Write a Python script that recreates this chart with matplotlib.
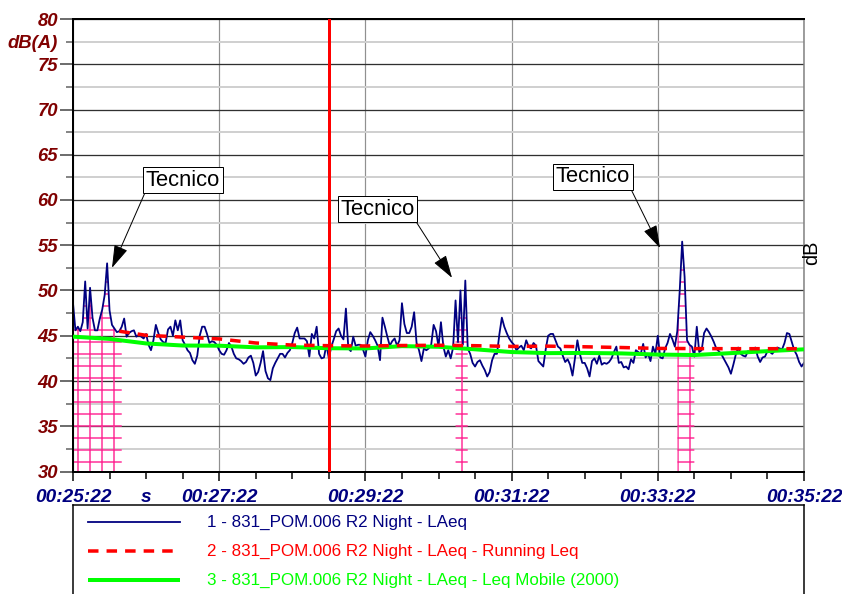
import numpy as np
import matplotlib
matplotlib.use("Agg")
import matplotlib.pyplot as plt

# ---------------- data ----------------
# LAeq (dB(A)) sampled every 2 s from 00:25:22
laeq_a = [48.6, 45.6, 46.0, 45.5, 46.5, 51.0, 45.8, 50.3, 47.0, 45.6, 45.6, 46.9, 47.9, 49.5, 53.0, 47.8,
          46.2, 45.8, 45.4, 45.5, 46.0, 46.9, 44.9, 45.3, 45.5, 45.6, 44.9, 45.1, 44.9, 44.7, 45.2, 44.0,
          43.4, 44.5, 46.2, 45.3, 44.6, 44.3, 44.2, 45.7, 46.0, 45.0, 46.7, 45.6, 46.7, 44.5, 44.0, 43.4,
          43.1, 42.3, 41.9, 42.8, 45.0, 46.0, 46.0, 45.2, 44.2, 44.4, 44.3, 44.0, 43.4, 43.0]
laeq_b = [42.9, 43.4, 44.2, 43.8, 43.0, 42.5, 42.4, 42.2, 41.9, 42.1, 42.6, 42.8, 42.0, 40.6, 41.0, 42.0,
          43.3, 41.1, 40.3, 40.1, 41.4, 42.0, 42.5, 43.0, 43.0, 42.6, 43.1, 43.4, 44.2, 45.3, 45.9, 44.7,
          44.7, 44.7, 44.4, 42.7, 45.2, 44.7, 46.0, 43.0, 42.5, 42.6, 44.0, 42.5, 43.8, 44.6, 45.5, 45.8,
          45.0, 44.6, 48.0, 43.6, 43.3, 44.9, 43.9, 44.0, 44.0, 43.5, 42.7, 44.5, 45.4]
laeq_c = [45.0, 44.5, 43.9, 42.3, 47.0, 46.0, 44.9, 43.9, 44.4, 44.7, 43.9, 44.5, 48.6, 46.3, 45.3, 45.3,
          46.0, 47.6, 44.2, 43.4, 42.2, 43.6, 43.4, 43.6, 44.0, 46.2, 45.5, 43.8, 46.5, 43.8, 42.7, 43.4,
          42.5, 43.7, 48.9, 44.3, 50.0, 44.0, 51.1, 43.6, 43.0, 42.0, 41.6, 42.1, 42.3, 41.7, 41.2, 40.5,
          41.0, 42.3, 43.0, 43.0, 45.2, 47.0, 46.0, 45.3, 44.7, 44.3, 44.0, 43.4, 43.7, 43.9]
laeq_d = [43.4, 44.5, 43.8, 43.6, 44.2, 43.9, 42.2, 41.9, 41.6, 43.5, 45.0, 45.2, 45.2, 44.5, 43.8, 43.6,
          42.8, 42.1, 42.4, 41.8, 40.6, 42.5, 44.5, 43.0, 42.0, 42.0, 41.4, 40.5, 42.2, 42.5, 41.9, 42.8,
          41.8, 42.0, 41.9, 42.1, 42.5, 43.2, 43.8, 42.0, 42.1, 41.5, 41.6, 41.3, 42.4, 42.0, 43.4, 43.2,
          43.0, 44.1, 42.6, 43.0, 42.2, 43.8, 43.0, 45.0, 42.6, 42.5, 43.6, 44.2, 45.2, 44.6]
laeq_e = [43.8, 45.5, 50.0, 55.4, 51.5, 44.5, 44.0, 43.8, 42.7, 46.0, 43.2, 43.4, 45.3, 45.8, 45.4, 44.9,
          44.3, 43.6, 43.3, 43.0, 42.5, 42.0, 41.5, 40.8, 41.8, 42.9, 43.7, 43.0, 42.8, 42.7, 43.3, 43.1,
          43.3, 43.7, 42.7, 42.1, 42.6, 42.7, 43.3, 43.2, 43.0, 43.4, 43.7, 43.6, 43.5, 44.2, 45.3, 45.2,
          44.3, 43.4, 42.9, 42.1, 41.6, 42.0]
laeq = np.array(laeq_a + laeq_b + laeq_c + laeq_d + laeq_e)
sample_step = 2
t = np.arange(len(laeq)) * sample_step

# Running Leq
rleq_t = [38, 60, 90, 120, 150, 180, 210, 240, 270, 300, 330, 360, 390, 420, 450, 480, 510, 540, 570, 600]
rleq = [45.5, 45.05, 44.85, 44.65, 44.2, 43.97, 43.9, 43.87, 43.92, 43.95, 43.9, 43.82, 43.85, 43.78,
        43.7, 43.6, 43.58, 43.57, 43.57, 43.57]

# Leq Mobile (2000)
leqm_t = [0, 30, 60, 90, 120, 150, 180, 210, 240, 270, 300, 330, 360, 390, 420, 450, 480, 510, 540, 570, 600]
leqm = [44.9, 44.65, 44.15, 43.92, 43.9, 43.72, 43.75, 43.62, 43.6, 43.85, 43.78, 43.5, 43.2, 43.08,
        43.1, 43.05, 42.92, 42.87, 43.08, 43.3, 43.5]

# masked (excluded) periods, seconds
mask_start = [0, 314, 496]
mask_end = [40, 324, 510]

cursor_t = 210

# annotations: text, box centre (t, dB), arrow tip (t, dB), arrow start corner
ann_text = ["Tecnico", "Tecnico", "Tecnico"]
ann_box = [(90.3, 62.2), (250.0, 59.0), (426.8, 62.55)]
ann_tip = [(32.0, 52.5), (311.1, 51.4), (481.8, 54.7)]
ann_corner = [(0, 0), (1, 0), (1, 0)]

xtick_pos = [0, 120, 240, 360, 480, 600]
xtick_labels = ["00:25:22", "00:27:22", "00:29:22", "00:31:22", "00:33:22", "00:35:22"]
xminor_pos = [30, 60, 90, 150, 180, 210, 270, 300, 330, 390, 420, 450, 510, 540, 570]
xminor_labels = ["", "s", "", "", "", "", "", "", "", "", "", "", "", "", ""]
ytick_pos = [30, 35, 40, 45, 50, 55, 60, 65, 70, 75, 80]
yminor_pos = [32.5, 37.5, 42.5, 47.5, 52.5, 57.5, 62.5, 67.5, 72.5, 77.5]
yminor_labels = ["", "", "", "", "", "", "", "", "", "dB(A)"]

legend_labels = ["1 - 831_POM.006 R2 Night - LAeq",
                 "2 - 831_POM.006 R2 Night - LAeq - Running Leq",
                 "3 - 831_POM.006 R2 Night - LAeq - Leq Mobile (2000)"]

# ---------------- style ----------------
plt.rcParams['font.family'] = ['Liberation Sans', 'DejaVu Sans']
plt.rcParams['hatch.linewidth'] = 1.5

DPI = 72
W, H = 842, 594
fig = plt.figure(figsize=(W / DPI, H / DPI), dpi=DPI)
ax = fig.add_axes([73 / W, (H - 471.5) / H, 731 / W, 452.5 / H])

NAVY = '#000080'
MAROON = '#800000'
PINK = '#ff2d96'
LIME = '#00ff00'

ax.set_xlim(0, 600)
ax.set_ylim(30, 80)
ax.set_axisbelow(True)

# hatched masked areas
for s, e in zip(mask_start, mask_end):
    sel = (t >= s) & (t <= e)
    ax.fill_between(t[sel], 30, laeq[sel], facecolor='none', edgecolor=PINK,
                    hatch='+', linewidth=0, zorder=1)

style1 = dict(color=NAVY, lw=1.8)
style2 = dict(color='red', lw=3.5, dashes=(3, 2.3))
style3 = dict(color=LIME, lw=4, solid_capstyle='butt')

ax.plot(t, laeq, zorder=2, **style1)
ax.plot(leqm_t, leqm, zorder=3, **style3)
ax.plot(rleq_t, rleq, zorder=4, **style2)

ax.axvline(cursor_t, color='red', lw=3, zorder=5)

# ticks
ax.set_xticks(xtick_pos, labels=xtick_labels, fontweight='bold', fontstyle='italic')
ax.set_xticks(xminor_pos, labels=xminor_labels, minor=True, fontweight='bold', fontstyle='italic')
ax.set_yticks(ytick_pos, labels=[str(v) for v in ytick_pos], fontweight='bold', fontstyle='italic')
ax.set_yticks(yminor_pos, labels=yminor_labels, minor=True, fontweight='bold', fontstyle='italic')

ax.tick_params(axis='y', which='major', length=13, width=1.5, color='#404040', pad=2,
               labelsize=18.5, labelcolor=MAROON)
ax.tick_params(axis='y', which='minor', length=7, width=1.5, color='#606060', pad=8,
               labelsize=18.5, labelcolor=MAROON)
ax.tick_params(axis='x', which='major', length=9, width=1.5, color='black', pad=8,
               labelsize=19, labelcolor=NAVY)
ax.tick_params(axis='x', which='minor', length=7, width=1.5, color='black', pad=10,
               labelsize=19, labelcolor=NAVY)

ax.grid(which='major', axis='y', color='#303030', lw=1.3)
ax.grid(which='minor', axis='y', color='#d0d0d0', lw=2)
ax.grid(which='major', axis='x', color='#909090', lw=1.2)

for side in ['left', 'bottom', 'top']:
    ax.spines[side].set_color('black')
    ax.spines[side].set_linewidth(2)
ax.spines['right'].set_color('#808080')
ax.spines['right'].set_linewidth(1.5)

ax.text(1.011, 0.483, 'dB', rotation=90, transform=ax.transAxes, fontsize=20,
        ha='center', va='center', color='black')

# annotations
for txt, box, tip, corner in zip(ann_text, ann_box, ann_tip, ann_corner):
    ax.annotate(txt, xy=tip, xytext=box, textcoords='data', fontsize=22,
                ha='center', va='center', zorder=6,
                bbox=dict(boxstyle='square,pad=0.12', fc='white', ec='black', lw=1),
                arrowprops=dict(arrowstyle='-|>,head_length=0.9,head_width=0.28',
                                fc='black', ec='black', lw=1, shrinkA=0, shrinkB=0,
                                relpos=corner, mutation_scale=22))

# ---------------- legend panel (pixel coordinates, extends past figure bottom) ----------------
lg_top, lg_bot = 505, 625
lax = fig.add_axes([73 / W, (H - lg_bot) / H, 731 / W, (lg_bot - lg_top) / H])
lax.set_xlim(73, 804)
lax.set_ylim(lg_bot, lg_top)
lax.set_xticks([])
lax.set_yticks([])
for sp in lax.spines.values():
    sp.set_color('black')
    sp.set_linewidth(1.5)
row_y = [522, 551, 580]
text_colors = [NAVY, 'red', LIME]
for yy, lab, st, tc in zip(row_y, legend_labels, [style1, style2, style3], text_colors):
    lax.plot([88, 180], [yy, yy], **st)
    lax.text(207, yy, lab, fontsize=17, color=tc, va='center', ha='left')

fig.savefig('out.png', dpi=DPI)
